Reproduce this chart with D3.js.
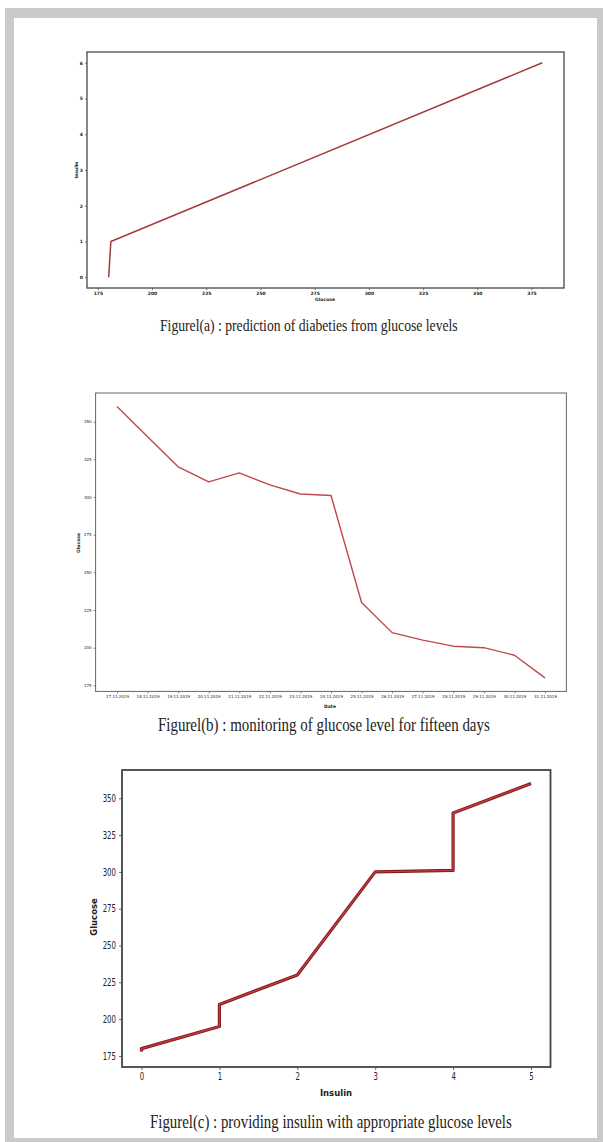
<!DOCTYPE html>
<html lang="en">
<head>
<script type="text/javascript" src="https://cdnjs.cloudflare.com/ajax/libs/d3/7.8.5/d3.min.js"></script>
<style>
body { margin: 0; background: #fff; }
.cap { font-family: "Liberation Serif", "Times New Roman", serif; fill: #222; }
</style>
</head>
<body>
<script type="text/javascript">
    // figure (a): insulin against glucose
    var glucoseA = [180, 181, 380]
    var insulinA = [0, 1, 6]
    var ticksAx = [175, 200, 225, 250, 275, 300, 325, 350, 375]
    var ticksAy = [0, 1, 2, 3, 4, 5, 6]

    // figure (b): glucose over fifteen days
    var dates = ["17.11.2019", "18.11.2019", "19.11.2019", "20.11.2019", "21.11.2019",
                 "22.11.2019", "23.11.2019", "24.11.2019", "25.11.2019", "26.11.2019",
                 "27.11.2019", "28.11.2019", "29.11.2019", "30.11.2019", "31.11.2019"]
    var glucoseB = [360, 340, 320, 310, 316, 308, 302, 301, 230, 210, 205, 201, 200, 195, 180]
    var ticksBy = [175, 200, 225, 250, 275, 300, 325, 350]

    // figure (c): glucose against insulin
    var insulinC = [0, 0, 1, 1, 2, 3, 4, 4, 5]
    var glucoseC = [178, 180, 195, 210, 230, 300, 301, 340, 360]
    var ticksCx = [0, 1, 2, 3, 4, 5]
    var ticksCy = [175, 200, 225, 250, 275, 300, 325, 350]

    var w = 603
    var h = 1142

    var svg = d3.select("body").append("svg")
                .attr("width", w)
                .attr("height", h)

    // page border
    svg.append("rect").attr("x", 5).attr("y", 8).attr("width", w - 5).attr("height", h - 8)
       .attr("fill", "#cacaca")
    svg.append("rect").attr("x", 14).attr("y", 18).attr("width", 583).attr("height", 1120)
       .attr("fill", "#fff")

    function panel(opt) {
        var g = svg.append("g")
        var x = d3.scaleLinear().domain(opt.xd).range(opt.xr)
        var y = d3.scaleLinear().domain(opt.yd).range(opt.yr)

        var xAxis = d3.axisBottom(x).tickValues(opt.xt).tickSize(opt.tick).tickPadding(opt.pad)
                      .tickFormat(opt.xf || d3.format("d"))
        var yAxis = d3.axisLeft(y).tickValues(opt.yt).tickSize(opt.tick).tickPadding(opt.pad)
                      .tickFormat(d3.format("d"))

        var gx = g.append("g").attr("transform", "translate(0," + opt.yr[0] + ")").call(xAxis)
        var gy = g.append("g").attr("transform", "translate(" + opt.xr[0] + ",0)").call(yAxis)
        ;[gx, gy].forEach(function(a) {
            a.select(".domain").remove()
            a.selectAll(".tick line").attr("stroke", opt.frame).attr("stroke-width", 0.8)
            a.selectAll("text")
             .attr("font-family", opt.font)
             .attr("font-size", opt.fs)
             .attr("font-weight", opt.fw)
             .attr("fill", "#222")
        })
        if (opt.squeeze) {
            gy.selectAll("text").attr("transform", function() {
                var xx = +d3.select(this).attr("x")
                return "translate(" + xx + ",0) scale(" + opt.squeeze + ",1) translate(" + (-xx) + ",0)"
            })
            gx.selectAll("text").attr("transform", "scale(" + opt.squeeze + ",1)")
        }

        g.append("rect")
         .attr("x", opt.xr[0]).attr("y", opt.yr[1])
         .attr("width", opt.xr[1] - opt.xr[0]).attr("height", opt.yr[0] - opt.yr[1])
         .attr("fill", "none").attr("stroke", opt.frame).attr("stroke-width", opt.fw2)

        var line = d3.line()
            .x(function(d) { return x(d[0]) })
            .y(function(d) { return y(d[1]) })
        var pts = opt.xs.map(function(v, i) { return [v, opt.ys[i]] })
        opt.strokes.forEach(function(s) {
            g.append("path").datum(pts)
             .attr("d", line)
             .attr("fill", "none")
             .attr("stroke", s[0])
             .attr("stroke-width", s[1])
             .attr("stroke-linejoin", "round")
        })

        g.append("text").text(opt.xl)
         .attr("x", opt.xlPos[0]).attr("y", opt.xlPos[1])
         .attr("text-anchor", "middle")
         .attr("font-family", opt.lfont).attr("font-weight", "bold")
         .attr("font-size", opt.lfs).attr("fill", "#222")
        g.append("text").text(opt.yl)
         .attr("transform", "translate(" + opt.ylPos[0] + "," + opt.ylPos[1] + ") rotate(-90)")
         .attr("text-anchor", "middle")
         .attr("font-family", opt.lfont).attr("font-weight", "bold")
         .attr("font-size", opt.lfs).attr("fill", "#222")

        // caption, squeezed horizontally to the width it has in the scan
        var cap = svg.append("text").attr("class", "cap")
           .text(opt.cap)
           .attr("x", 0).attr("y", 0)
           .attr("font-size", opt.capFs)
        var natural = cap.node().getComputedTextLength()
        cap.attr("transform", "translate(" + opt.capPos[0] + "," + opt.capPos[1] + ") scale(" +
                 (opt.capLen / natural) + ",1)")
    }

    panel({
        xd: [170, 390], xr: [87, 564], yd: [-0.3, 6.3], yr: [288, 52],
        xt: ticksAx, yt: ticksAy, tick: 2, pad: 2,
        font: "DejaVu Sans", fs: 4.5, fw: "bold", frame: "#555", fw2: 1.4,
        xs: glucoseA, ys: insulinA,
        strokes: [["#a33a3e", 1.5]],
        xl: "Glucose", xlPos: [325, 301], yl: "Insulin", ylPos: [78, 170],
        lfont: "DejaVu Sans", lfs: 4.5,
        cap: "Figurel(a) : prediction of diabeties from glucose levels",
        capPos: [160, 331], capFs: 17, capLen: 298
    })

    panel({
        xd: [-0.7, 14.7], xr: [95.6, 566.4], yd: [171, 369], yr: [691.4, 393],
        xt: d3.range(dates.length), yt: ticksBy, tick: 2, pad: 2,
        xf: function(i) { return dates[i] },
        font: "DejaVu Sans", fs: 4, fw: "normal", frame: "#666", fw2: 1,
        xs: d3.range(dates.length), ys: glucoseB,
        strokes: [["#c0484c", 1.4]],
        xl: "Date", xlPos: [330, 708], yl: "Glucose", ylPos: [80, 543],
        lfont: "DejaVu Sans", lfs: 4.5,
        cap: "Figurel(b) : monitoring of glucose level for fifteen days",
        capPos: [158, 731], capFs: 18, capLen: 332
    })

    panel({
        xd: [-0.25, 5.25], xr: [122, 550.5], yd: [167.5, 369.2], yr: [1067, 770],
        xt: ticksCx, yt: ticksCy, tick: 3, pad: 3,
        font: "DejaVu Sans", fs: 10, fw: "normal", frame: "#444", fw2: 1.8,
        squeeze: 0.7,
        xs: insulinC, ys: glucoseC,
        strokes: [["#7e1a1e", 3.2], ["#c23a3e", 1.4]],
        xl: "Insulin", xlPos: [336, 1096], yl: "Glucose", ylPos: [97, 917],
        lfont: "DejaVu Sans", lfs: 8.5,
        cap: "Figurel(c) : providing insulin with appropriate glucose levels",
        capPos: [150, 1128], capFs: 19, capLen: 362
    })
</script>
</body>
</html>
